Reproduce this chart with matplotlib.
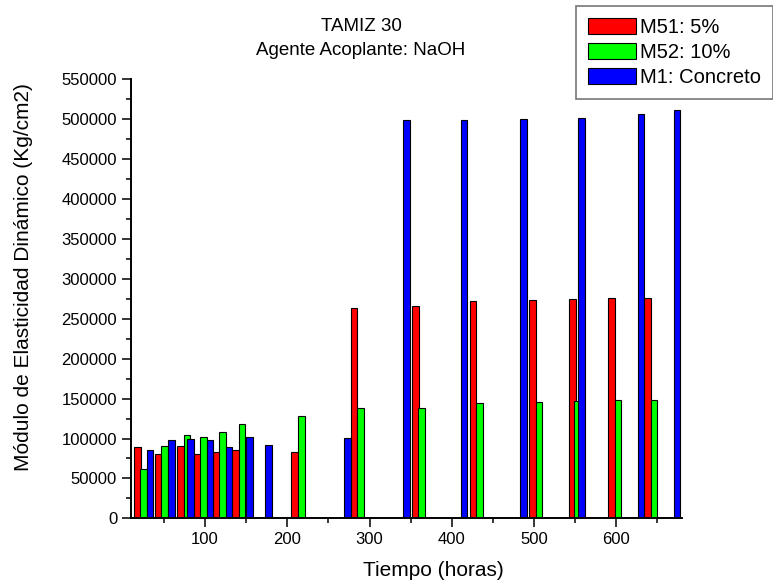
import numpy as np
import matplotlib.pyplot as plt
from matplotlib.ticker import MultipleLocator

plt.rcParams['font.family'] = ['Liberation Sans', 'DejaVu Sans']

# Tiempo (horas) y modulo (Kg/cm2)
t_m51 = [18, 43, 70, 91, 114, 137, 209, 281, 356, 426, 498, 547, 594, 638]
v_m51 = [89400, 80600, 90200, 80600, 82700, 85200, 82500, 264000, 266500,
         272000, 273200, 274500, 275700, 275700]

t_m52 = [25, 51, 78, 98, 121, 145, 217, 289, 363, 434, 506, 553, 602, 646]
v_m52 = [62200, 90200, 104800, 101900, 108500, 118600, 128800, 137900,
         138600, 144100, 146200, 147400, 147900, 148000]

t_m1 = [33, 59, 82, 106, 129, 154, 177, 273, 345, 415, 487, 558, 630, 674]
v_m1 = [85200, 98100, 99400, 98500, 89800, 101500, 91500, 101000, 498800,
        499600, 500100, 501400, 506800, 511800]

labels = ['M51: 5%', 'M52: 10%', 'M1: Concreto']
colors = ['#ff0000', '#00ff00', '#0000ff']

fig = plt.figure(figsize=(7.73, 5.84), dpi=100)
ax = fig.add_axes([0.1695, 0.1125, 0.7128, 0.7514])

width = 8
for t, v, lab, c in zip([t_m51, t_m52, t_m1], [v_m51, v_m52, v_m1], labels, colors):
    ax.bar(t, v, width=width, color=c, edgecolor='black', linewidth=0.8, label=lab)

ax.set_xlim(10, 680)
ax.set_ylim(0, 550000)
ax.xaxis.set_major_locator(MultipleLocator(100))
ax.xaxis.set_minor_locator(MultipleLocator(50))
ax.yaxis.set_major_locator(MultipleLocator(50000))
ax.yaxis.set_minor_locator(MultipleLocator(25000))
ax.set_xticks(np.arange(100, 700, 100))

for s in ['top', 'right']:
    ax.spines[s].set_visible(False)
for s in ['left', 'bottom']:
    ax.spines[s].set_linewidth(1.4)

ax.tick_params(which='major', direction='out', length=6.5, width=1.1, labelsize=12)
ax.tick_params(which='minor', direction='out', length=3.3, width=1.1)

fig.text(361 / 773, 0.9474, 'TAMIZ 30', ha='center', va='baseline', fontsize=13.5)
fig.text(361 / 773, 0.9058, 'Agente Acoplante: NaOH', ha='center', va='baseline', fontsize=13.5)
fig.text(433 / 773, 0.0142, 'Tiempo (horas)', ha='center', va='baseline', fontsize=15)
fig.text(0.030, 0.525, 'Módulo de Elasticidad Dinámico (Kg/cm2)', rotation=90,
         ha='center', va='center', fontsize=15)

leg = fig.legend(loc='upper left', bbox_to_anchor=(575.7 / 773, 1 - 6 / 584),
                 fontsize=14.5, frameon=True, fancybox=False, handlelength=2.4,
                 handleheight=0.85, handletextpad=0.2, labelspacing=0.3,
                 borderpad=0.6, borderaxespad=0)
leg.get_frame().set_edgecolor('#555555')
leg.get_frame().set_linewidth(1.2)

fig.savefig('out.png', dpi=100)
